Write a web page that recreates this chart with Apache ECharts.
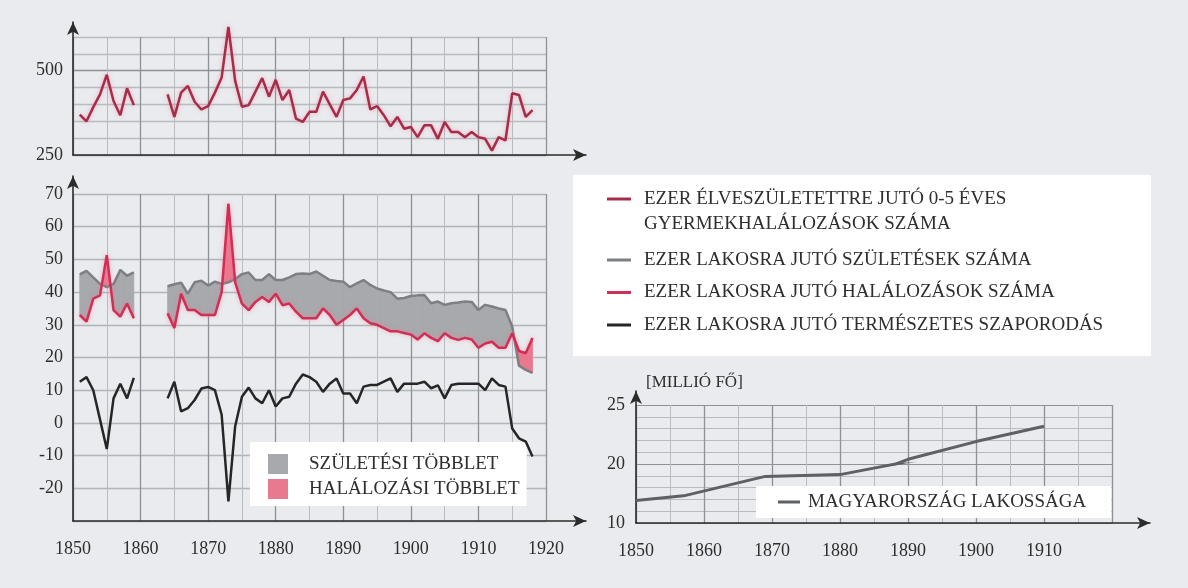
<!DOCTYPE html>
<html>
<head>
<meta charset="utf-8">
<script src="https://cdn.jsdelivr.net/npm/echarts@6/dist/echarts.min.js"></script>
<style>
  html, body { margin: 0; padding: 0; background: #e9ebee; }
  #chart { width: 1188px; height: 588px; }
</style>
</head>
<body>
<div id="chart"></div>
<script>
  // évek: első szakasz 1851-1859, második 1864-1918
  var seg1Years = [1851, 1852, 1853, 1854, 1855, 1856, 1857, 1858, 1859];
  var seg2Years = [];
  for (var yr = 1864; yr <= 1918; yr++) seg2Years.push(yr);

  // ezer élveszületettre jutó 0-5 éves gyermekhalálozások
  var childMort1 = [370, 350, 392, 430, 488, 410, 368, 448, 398];
  var childMort2 = [
    430, 363, 435, 455, 408, 385, 395, 435, 480, 630,
    470, 393, 398, 438, 478, 423, 473, 413, 443, 358,
    348, 378, 378, 438, 400, 363, 413, 418, 443, 483,
    385, 395, 368, 335, 363, 328, 333, 303, 338, 338,
    298, 348, 318, 318, 303, 318, 303, 298, 263, 303,
    293, 433, 428, 363, 383
  ];

  // ezer lakosra jutó születések
  var births1 = [45.4, 46.5, 44.5, 42.5, 41.5, 42.5, 46.8, 45, 46];
  var births2 = [
    41.8, 42.4, 42.9, 39.5, 43, 43.5, 42, 43.2, 42.5, 43,
    44, 45.5, 46, 43.7, 43.7, 45.5, 43.7, 43.7, 44.5, 45.5,
    45.7, 45.5, 46.3, 45, 43.7, 43.4, 43.2, 41.5, 42.7, 43.7,
    42.2, 41.1, 40.5, 40, 38, 38.2, 38.8, 39, 39.1, 36.6,
    37.1, 36.1, 36.6, 36.8, 37.1, 37, 34.5, 36.1, 35.6, 35,
    34.5, 29.5, 17.5, 16.2, 15.3
  ];

  // ezer lakosra jutó halálozások
  var deaths1 = [33, 31, 38, 39, 51.3, 34.5, 32.5, 36.5, 32];
  var deaths2 = [
    33.5, 29, 39.5, 34.5, 34.5, 33, 33, 33, 40, 67,
    43, 36.5, 34.5, 37, 38.5, 37, 39.5, 36, 36.5, 34,
    32, 32, 32, 35, 33, 30, 31.5, 33, 35, 32,
    30.5, 30, 29, 28, 28, 27.5, 27, 25.5, 27.4, 26,
    25, 27.4, 26, 25.4, 26, 25.5, 23, 24.3, 24.8, 23,
    23, 27.4, 22, 21.3, 26
  ];

  // természetes szaporodás
  var natural1 = [12.6, 14, 10, 1, -8, 7.5, 12, 7.5, 13.8];
  var natural2 = [
    7.5, 12.6, 3.5, 4.5, 7, 10.5, 11, 10, 2.5, -24,
    -1, 8, 10.8, 7.5, 6, 10, 5, 7.5, 8, 12,
    14.8, 14, 12.6, 9.5, 12, 13.6, 9, 9, 6, 11.1,
    11.6, 11.6, 12.6, 13.6, 9.5, 12, 12, 12, 12.6, 10.6,
    11.5, 7.5, 11.6, 12, 12, 12, 12, 10, 13.6, 11.6,
    11.1, -1.7, -4.7, -5.7, -10.3
  ];

  // Magyarország lakossága (millió fő)
  var popYears = [1850, 1857, 1869, 1880, 1890, 1900, 1910];
  var popMillions = [13.8, 14.6, 17.9, 18.2, 20.4, 21.9, 23.2];

  var childName = 'EZER ÉLVESZÜLETETTRE JUTÓ 0-5 ÉVES\nGYERMEKHALÁLOZÁSOK SZÁMA';
  var birthName = 'EZER LAKOSRA JUTÓ SZÜLETÉSEK SZÁMA';
  var deathName = 'EZER LAKOSRA JUTÓ HALÁLOZÁSOK SZÁMA';
  var naturalName = 'EZER LAKOSRA JUTÓ TERMÉSZETES SZAPORODÁS';
  var surplusBirth = 'SZÜLETÉSI TÖBBLET';
  var surplusDeath = 'HALÁLOZÁSI TÖBBLET';
  var popName = 'MAGYARORSZÁG LAKOSSÁGA';

  var serif = "'Liberation Serif', 'DejaVu Serif', serif";
  var grayFill = '#a7a9ac';
  var pinkFill = '#e9798f';
  var darkGrid = '#8e9297';
  var lightGrid = '#b8bcc0';

  function pairs(years, vals) {
    return years.map(function (y, i) { return [y, vals[i]]; });
  }
  function joined(v1, v2) {
    return pairs(seg1Years, v1).concat([[1862, null]], pairs(seg2Years, v2));
  }
  function bands(years, b, d) {
    var out = [];
    for (var i = 0; i < years.length - 1; i++) {
      out.push([years[i], b[i], d[i], years[i + 1], b[i + 1], d[i + 1]]);
    }
    return out;
  }
  var bandData = bands(seg1Years, births1, deaths1).concat(bands(seg2Years, births2, deaths2));

  // sign = 1: születési többlet, sign = -1: halálozási többlet
  function surplus(sign, color) {
    return function (params, api) {
      var x0 = api.value(0), b0 = api.value(1), d0 = api.value(2);
      var x1 = api.value(3), b1 = api.value(4), d1 = api.value(5);
      var e0 = (b0 - d0) * sign, e1 = (b1 - d1) * sign;
      var pts = null;
      if (e0 >= 0 && e1 >= 0) {
        pts = [[x0, b0], [x1, b1], [x1, d1], [x0, d0]];
      } else if (e0 > 0 || e1 > 0) {
        var t = e0 / (e0 - e1);
        var xc = x0 + t * (x1 - x0), yc = b0 + t * (b1 - b0);
        pts = e0 > 0 ? [[x0, b0], [xc, yc], [x0, d0]] : [[xc, yc], [x1, b1], [x1, d1]];
      }
      if (!pts) return null;
      return {
        type: 'polygon',
        shape: { points: pts.map(function (p) { return api.coord(p); }) },
        style: { fill: color, stroke: color, lineWidth: 0.8 }
      };
    };
  }

  var labelStyle = { color: '#2e2e2e', fontFamily: serif, fontSize: 18 };
  var legendText = { color: '#2e2e2e', fontFamily: serif, fontSize: 19 };

  function yearAxis(grid, showLabels) {
    return {
      type: 'value', gridIndex: grid, min: 1850, max: 1920, interval: 10,
      axisLine: { show: false }, axisTick: { show: false },
      axisLabel: Object.assign({ show: showLabels, margin: 19,
        formatter: function (v) { return v; } }, labelStyle),
      splitLine: { show: true, lineStyle: { color: darkGrid, width: 1.3 } },
      minorTick: { show: false, splitNumber: 2 },
      minorSplitLine: { show: true, lineStyle: { color: lightGrid, width: 1 } }
    };
  }
  function frameAxis(grid) {
    return {
      type: 'value', gridIndex: grid, min: 0, max: 1,
      axisLine: { show: true, symbol: ['none', 'arrow'], symbolSize: [9, 13],
        lineStyle: { color: '#2b2b2b', width: 1.6 } },
      axisTick: { show: false }, axisLabel: { show: false }, splitLine: { show: false }
    };
  }

  var popXAxis = yearAxis(2, true);
  popXAxis.axisLabel.formatter = function (v) { return v === 1920 ? '' : v; };

  var chart = echarts.init(document.getElementById('chart'));
  chart.setOption({
    animation: false,
    backgroundColor: '#e9ebee',
    grid: [
      { left: 73, top: 37, width: 473, height: 118 },
      { left: 73, top: 194, width: 473, height: 327 },
      { left: 636, top: 464, width: 476, height: 59 },
      { left: 636, top: 405, width: 476, height: 59 },
      { left: 73, top: 22, width: 513, height: 133 },
      { left: 73, top: 176, width: 513, height: 345 },
      { left: 636, top: 391, width: 514, height: 132 }
    ],
    xAxis: [
      yearAxis(0, false), yearAxis(1, true), popXAxis, yearAxis(3, false),
      frameAxis(4), frameAxis(5), frameAxis(6)
    ],
    yAxis: [
      {
        type: 'value', gridIndex: 0, min: 250, max: 600, interval: 50,
        axisLine: { show: false }, axisTick: { show: false },
        axisLabel: Object.assign({ margin: 10,
          formatter: function (v) { return (v === 250 || v === 500) ? v : ''; } }, labelStyle),
        splitLine: { lineStyle: { color: [darkGrid, lightGrid, lightGrid, lightGrid, lightGrid], width: 1.4 } }
      },
      {
        type: 'value', gridIndex: 1, min: -30, max: 70, interval: 10,
        axisLine: { show: false }, axisTick: { show: false },
        axisLabel: Object.assign({ margin: 10,
          formatter: function (v) { return v === -30 ? '' : v; } }, labelStyle),
        splitLine: { lineStyle: { color: '#b1b5b9', width: 1.3 } }
      },
      {
        type: 'value', gridIndex: 2, min: 10, max: 20, interval: 2,
        axisLine: { show: false }, axisTick: { show: false },
        axisLabel: Object.assign({ margin: 11,
          formatter: function (v) { return (v === 10 || v === 20) ? v : ''; } }, labelStyle),
        splitLine: { lineStyle: { color: [darkGrid, lightGrid, lightGrid, lightGrid, lightGrid], width: 1.2 } }
      },
      {
        type: 'value', gridIndex: 3, min: 20, max: 25, interval: 1,
        name: '[MILLIÓ FŐ]', nameLocation: 'end', nameGap: 14,
        nameTextStyle: { color: '#2e2e2e', fontFamily: serif, fontSize: 17, align: 'left', padding: [0, 0, 0, 10] },
        axisLine: { show: false }, axisTick: { show: false },
        axisLabel: Object.assign({ margin: 11,
          formatter: function (v) { return v === 25 ? v : ''; } }, labelStyle),
        splitLine: { lineStyle: { color: [darkGrid, lightGrid, lightGrid, lightGrid, lightGrid], width: 1.2 } }
      },
      frameAxis(4), frameAxis(5), frameAxis(6)
    ],
    graphic: [
      { type: 'rect', left: 573, top: 175, shape: { width: 578, height: 181 },
        style: { fill: '#ffffff' }, z: 5 }
    ],
    legend: [
      {
        // üres első sor: a jel az első szövegsorhoz igazodjon
        data: [childName], left: 607, top: 161.5, orient: 'vertical', selectedMode: false,
        icon: 'rect', itemWidth: 24, itemHeight: 3, padding: 0, z: 10,
        formatter: function (name) { return ' \n' + name; },
        textStyle: Object.assign({ lineHeight: 25, padding: [0, 0, 0, 8] }, legendText)
      },
      {
        data: [birthName, deathName, naturalName], left: 607, top: 250, orient: 'vertical',
        selectedMode: false, icon: 'rect', itemWidth: 24, itemHeight: 3, itemGap: 12.5,
        padding: 0, z: 10,
        textStyle: Object.assign({ lineHeight: 20, padding: [0, 0, 0, 8] }, legendText)
      },
      {
        data: [surplusBirth, surplusDeath], left: 250, top: 442, orient: 'vertical',
        selectedMode: false, icon: 'rect', itemWidth: 20, itemHeight: 20, itemGap: 5,
        backgroundColor: '#ffffff', padding: [12, 7, 7, 18],
        textStyle: Object.assign({ padding: [0, 0, 0, 16] }, legendText)
      },
      {
        data: [popName], left: 756, top: 486, selectedMode: false, icon: 'rect',
        itemWidth: 22, itemHeight: 3, backgroundColor: '#ffffff', padding: [6, 25, 6, 22],
        textStyle: Object.assign({ lineHeight: 20, padding: [0, 0, 0, 3] }, legendText)
      }
    ],
    series: [
      {
        type: 'line', name: childName, xAxisIndex: 0, yAxisIndex: 0, clip: false,
        data: joined(childMort1, childMort2), showSymbol: false, symbol: 'none', z: 4,
        itemStyle: { color: '#a52d4a' },
        lineStyle: { color: '#a52d4a', width: 2.5, shadowColor: 'rgba(240,120,150,0.55)', shadowBlur: 4 }
      },
      {
        type: 'custom', name: surplusBirth, xAxisIndex: 1, yAxisIndex: 1,
        data: bandData, encode: { x: [0, 3], y: [1, 2, 4, 5] },
        renderItem: surplus(1, grayFill), itemStyle: { color: grayFill }, silent: true, z: 1
      },
      {
        type: 'custom', name: surplusDeath, xAxisIndex: 1, yAxisIndex: 1,
        data: bandData, encode: { x: [0, 3], y: [1, 2, 4, 5] },
        renderItem: surplus(-1, pinkFill), itemStyle: { color: pinkFill }, silent: true, z: 1
      },
      {
        type: 'line', name: birthName, xAxisIndex: 1, yAxisIndex: 1,
        data: joined(births1, births2), showSymbol: false, symbol: 'none', z: 3,
        itemStyle: { color: '#7c7f83' },
        lineStyle: { color: '#7c7f83', width: 2.5 }
      },
      {
        type: 'line', name: deathName, xAxisIndex: 1, yAxisIndex: 1,
        data: joined(deaths1, deaths2), showSymbol: false, symbol: 'none', z: 4,
        itemStyle: { color: '#cf2f55' },
        lineStyle: { color: '#cf2f55', width: 2.5, shadowColor: 'rgba(245,120,150,0.6)', shadowBlur: 4 }
      },
      {
        type: 'line', name: naturalName, xAxisIndex: 1, yAxisIndex: 1,
        data: joined(natural1, natural2), showSymbol: false, symbol: 'none', z: 4,
        itemStyle: { color: '#262626' },
        lineStyle: { color: '#262626', width: 2.5 }
      },
      {
        type: 'line', name: popName, xAxisIndex: 2, yAxisIndex: 2,
        data: pairs(popYears, popMillions), showSymbol: false, symbol: 'none', z: 4,
        itemStyle: { color: '#5d6064' }, lineStyle: { color: '#5d6064', width: 3 }
      },
      {
        type: 'line', name: popName, xAxisIndex: 3, yAxisIndex: 3,
        data: pairs(popYears, popMillions), showSymbol: false, symbol: 'none', z: 4,
        itemStyle: { color: '#5d6064' }, lineStyle: { color: '#5d6064', width: 3 }
      }
    ]
  });
</script>
</body>
</html>
